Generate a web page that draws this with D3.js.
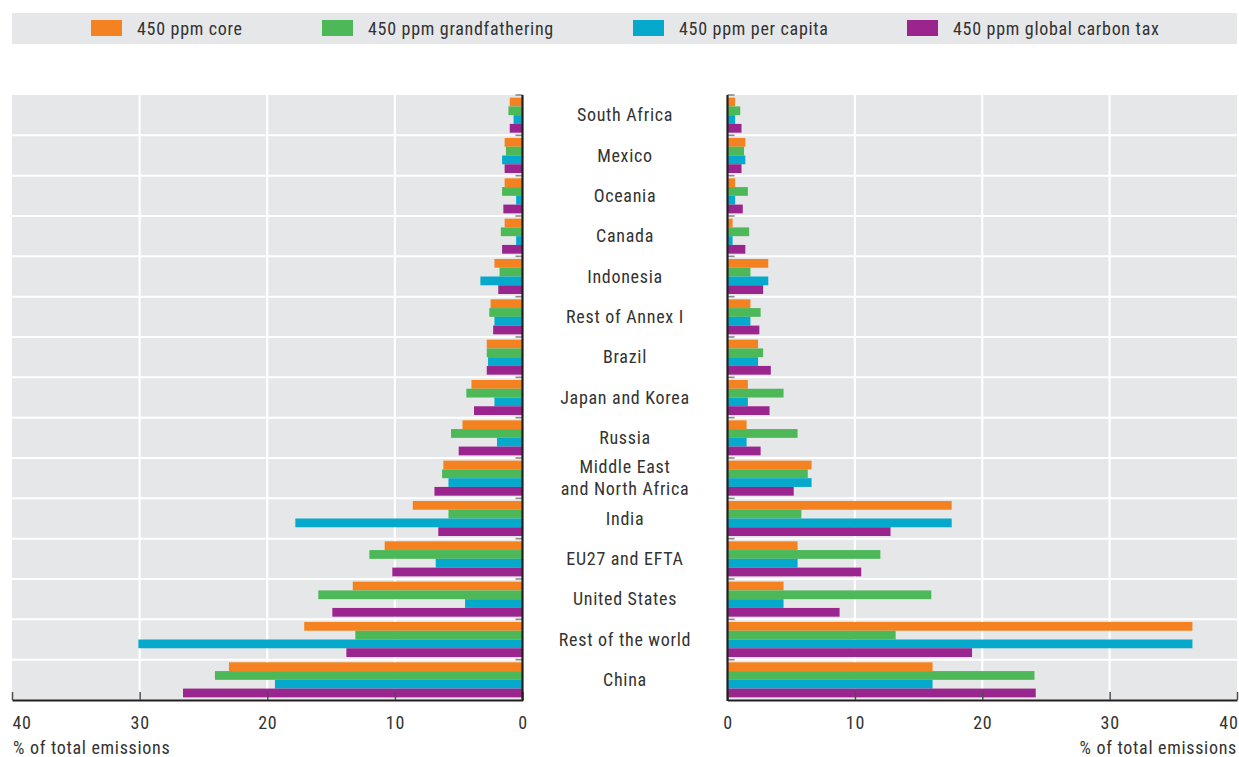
<!DOCTYPE html>
<html>
<head>
<meta charset="utf-8">
<script src="https://cdn.jsdelivr.net/npm/d3@7"></script>
<style>
  html, body { margin: 0; padding: 0; background: #ffffff; }
  svg text { font-family: "Liberation Sans Narrow", "Arial Narrow", "Roboto Condensed", "Liberation Sans", sans-serif; fill: #333333; letter-spacing: 0.7px; }
</style>
</head>
<body>
<svg id="chart" width="1239" height="757"></svg>
<script>
// ---------------- DATA ----------------
const categories = ["South Africa", "Mexico", "Oceania", "Canada", "Indonesia", "Rest of Annex I", "Brazil",
  "Japan and Korea", "Russia", "Middle East\nand North Africa", "India", "EU27 and EFTA", "United States",
  "Rest of the world", "China"];

const seriesNames = ["450 ppm core", "450 ppm grandfathering", "450 ppm per capita", "450 ppm global carbon tax"];
const seriesColors = ["#f58220", "#4cb857", "#05a9cc", "#9b258f"];

// left panel (% of total emissions)
const coreLeft    = [1.0, 1.4, 1.4, 1.4, 2.2, 2.5, 2.8, 4.0, 4.7, 6.2, 8.6, 10.8, 13.3, 17.1, 23.0];
const grandLeft   = [1.1, 1.3, 1.6, 1.7, 1.8, 2.6, 2.8, 4.4, 5.6, 6.3, 5.8, 12.0, 16.0, 13.1, 24.1];
const perCapLeft  = [0.7, 1.6, 0.5, 0.5, 3.3, 2.2, 2.7, 2.2, 2.0, 5.8, 17.8, 6.8, 4.5, 30.1, 19.4];
const taxLeft     = [1.0, 1.4, 1.5, 1.6, 1.9, 2.3, 2.8, 3.8, 5.0, 6.9, 6.6, 10.2, 14.9, 13.8, 26.6];

// right panel (% of total emissions)
const coreRight   = [0.6, 1.4, 0.6, 0.4, 3.2, 1.8, 2.4, 1.6, 1.5, 6.6, 17.6, 5.5, 4.4, 36.5, 16.1];
const grandRight  = [1.0, 1.3, 1.6, 1.7, 1.8, 2.6, 2.8, 4.4, 5.5, 6.3, 5.8, 12.0, 16.0, 13.2, 24.1];
const perCapRight = [0.6, 1.4, 0.6, 0.4, 3.2, 1.8, 2.4, 1.6, 1.5, 6.6, 17.6, 5.5, 4.4, 36.5, 16.1];
const taxRight    = [1.1, 1.1, 1.2, 1.4, 2.8, 2.5, 3.4, 3.3, 2.6, 5.2, 12.8, 10.5, 8.8, 19.2, 24.2];

const tickValues = [0, 10, 20, 30, 40];
const gridValues = [10, 20, 30];
const axisTitle = "% of total emissions";

// ---------------- LAYOUT ----------------
const svg = d3.select("#chart");
const plotTop = 95, plotBottom = 700;
const leftPanel = { x0: 12, x1: 522.5 };
const rightPanel = { x0: 727.5, x1: 1237 };
const labelX = 625;
const gray = "#e6e7e8";
const dark = "#231f20";

const leftSeries = [coreLeft, grandLeft, perCapLeft, taxLeft];
const rightSeries = [coreRight, grandRight, perCapRight, taxRight];

const y = d3.scaleBand().domain(categories).range([plotTop, plotBottom]).paddingInner(0).paddingOuter(0);
const yInner = d3.scaleBand().domain(seriesNames).range([2.65, y.bandwidth() - 2.65]);

const xL = d3.scaleLinear().domain([0, 40]).range([leftPanel.x1, leftPanel.x0]);
const xR = d3.scaleLinear().domain([0, 40]).range([rightPanel.x0, rightPanel.x1]);

// ---------------- LEGEND ----------------
const legendXs = [91, 322, 633, 907];
svg.append("rect").attr("x", 12).attr("y", 13).attr("width", 1225).attr("height", 31).attr("fill", gray);
const lg = svg.append("g").selectAll("g").data(seriesNames).join("g")
  .attr("transform", (d, i) => `translate(${legendXs[i]},0)`);
lg.append("rect").attr("x", 0).attr("y", 20).attr("width", 31).attr("height", 16)
  .attr("fill", (d, i) => seriesColors[i]);
lg.append("text").attr("x", 46).attr("y", 35).attr("font-size", 18).text(d => d);

// ---------------- PANELS ----------------
function drawPanel(x, data, side) {
  const g = svg.append("g");
  const [a, b] = x.range();
  const xmin = Math.min(a, b), xmax = Math.max(a, b);
  g.append("rect").attr("x", xmin).attr("y", plotTop).attr("width", xmax - xmin).attr("height", plotBottom - plotTop).attr("fill", gray);
  // vertical gridlines
  g.selectAll("line.grid").data(gridValues).join("line")
    .attr("x1", d => x(d)).attr("x2", d => x(d)).attr("y1", plotTop).attr("y2", plotBottom)
    .attr("stroke", "#ffffff").attr("stroke-width", 2.2);
  // horizontal separators
  g.selectAll("line.sep").data(categories.slice(1)).join("line")
    .attr("x1", xmin).attr("x2", xmax).attr("y1", d => y(d)).attr("y2", d => y(d))
    .attr("stroke", "#ffffff").attr("stroke-width", 2);
  // bars
  seriesNames.forEach((s, si) => {
    g.append("g").selectAll("rect").data(data[si]).join("rect")
      .attr("x", d => Math.min(x(0), x(d)))
      .attr("width", d => Math.abs(x(d) - x(0)))
      .attr("y", (d, i) => y(categories[i]) + yInner(s))
      .attr("height", yInner.bandwidth())
      .attr("fill", seriesColors[si]);
  });
  // minor ticks at band boundaries near the value axis
  const x0 = x(0);
  const dir = side === "left" ? -1 : 1;
  g.selectAll("line.minor").data(categories).join("line")
    .attr("x1", x0).attr("x2", x0 + dir * 7)
    .attr("y1", d => y(d)).attr("y2", d => y(d))
    .attr("stroke", "#8a8a8a").attr("stroke-width", 1.6);
  // bottom axis
  const axis = d3.axisBottom(x).tickValues(tickValues).tickSize(-8).tickSizeOuter(0).tickPadding(16);
  const ag = g.append("g").attr("transform", `translate(0,${plotBottom})`).call(axis);
  ag.select(".domain").attr("stroke", dark).attr("stroke-width", 2.2);
  ag.selectAll(".tick line").attr("stroke", "#4d4d4d").attr("stroke-width", 1.5);
  ag.selectAll(".tick text").attr("font-size", 18).attr("fill", "#333333")
    .style("font-family", '"Liberation Sans Narrow", "Arial Narrow", "Roboto Condensed", "Liberation Sans", sans-serif');
  ag.selectAll(".tick").filter(d => d === 40).select("text")
    .attr("text-anchor", side === "left" ? "start" : "end")
    .attr("x", side === "left" ? 0 : 1);
  // vertical axis line
  g.append("line").attr("x1", x0).attr("x2", x0).attr("y1", plotTop).attr("y2", plotBottom + 1)
    .attr("stroke", dark).attr("stroke-width", 2.2);
  // axis title
  g.append("text")
    .attr("x", side === "left" ? xmin + 1 : xmax)
    .attr("y", 754)
    .attr("text-anchor", side === "left" ? "start" : "end")
    .attr("font-size", 18)
    .text(axisTitle);
}
drawPanel(xL, leftSeries, "left");
drawPanel(xR, rightSeries, "right");

// ---------------- CATEGORY LABELS ----------------
const lab = svg.append("g").selectAll("text").data(categories).join("text")
  .attr("x", labelX)
  .attr("text-anchor", "middle")
  .attr("font-size", 18);
lab.each(function(d) {
  const lines = d.split("\n");
  const cy = y(d) + y.bandwidth() / 2;
  const t = d3.select(this);
  lines.forEach((ln, i) => {
    t.append("tspan").attr("x", labelX)
      .attr("y", cy + (i - (lines.length - 1) / 2) * 22)
      .attr("dy", "0.35em").text(ln);
  });
});
</script>
</body>
</html>
